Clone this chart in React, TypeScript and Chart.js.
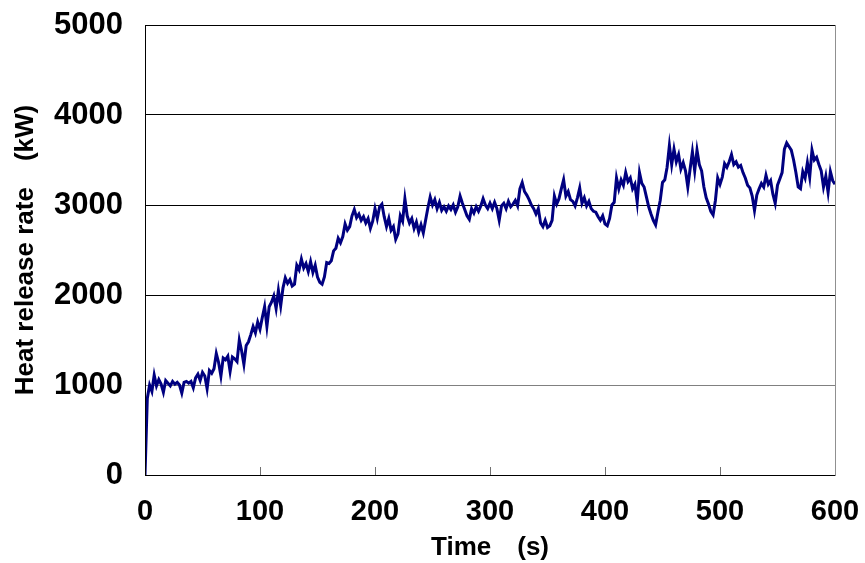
import React, { useEffect, useRef } from "react";
import { Chart, registerables } from "chart.js";

Chart.register(...registerables);

// Sampling interval of the recorded heat release rate (s)
const sampleStepSeconds = 2;

// Heat release rate (kW), one value every 2 s from t = 0 to t = 600 s
const heatReleaseRate: number[] = [
  // 0-18
  0, 850, 1000, 930, 1110, 990, 1060, 1010, 920, 1050,
  // 20-38
  1020, 990, 1040, 1010, 1030, 1000, 910, 1030, 1040, 1020,
  // 40-58
  1040, 970, 1080, 1120, 1050, 1140, 1100, 960, 1160, 1130,
  // 60-78
  1180, 1350, 1250, 1100, 1300, 1280, 1320, 1150, 1310, 1290,
  // 80-98
  1260, 1500, 1380, 1230, 1440, 1480, 1560, 1650, 1580, 1700,
  // 100-118
  1620, 1750, 1870, 1650, 1870, 1920, 1990, 1850, 2050, 1880,
  // 120-138
  2080, 2190, 2130, 2170, 2100, 2120, 2330, 2280, 2400, 2300,
  // 140-158
  2350, 2260, 2370, 2250, 2330, 2200, 2140, 2120, 2200, 2360,
  // 160-178
  2350, 2380, 2490, 2520, 2630, 2580, 2650, 2790, 2720, 2760,
  // 180-198
  2880, 2950, 2860, 2900, 2830, 2870, 2800, 2850, 2740, 2820,
  // 200-218
  2960, 2850, 2980, 3010, 2870, 2760, 2850, 2720, 2760, 2620,
  // 220-238
  2680, 2880, 2820, 3070, 2880, 2800, 2850, 2740, 2810, 2700,
  // 240-258
  2780, 2690, 2830, 2970, 3090, 3000, 3060, 2960, 3030, 2940,
  // 260-278
  2980, 2930, 2990, 2950, 3000, 2920, 2980, 3100, 3020, 2950,
  // 280-298
  2880, 2840, 2960, 2910, 2980, 2930, 2990, 3070, 3000, 2960,
  // 300-318
  3020, 2960, 3030, 2960, 2830, 2990, 3020, 2960, 3040, 2980,
  // 320-338
  3010, 3050, 2990, 3180, 3250, 3150, 3110, 3060, 3000, 2960,
  // 340-358
  2900, 2960, 2800, 2760, 2830, 2750, 2770, 2830, 3100, 3010,
  // 360-378
  3070, 3180, 3280, 3100, 3150, 3060, 3040, 2990, 3080, 3190,
  // 380-398
  3020, 3080, 2990, 3040, 2960, 2930, 2920, 2870, 2830, 2880,
  // 400-418
  2790, 2770, 2850, 3000, 3030, 3300, 3180, 3280, 3220, 3360,
  // 420-438
  3260, 3300, 3180, 3230, 3030, 3360, 3240, 3200, 3090, 2980,
  // 440-458
  2900, 2830, 2780, 2920, 3050, 3250, 3280, 3420, 3660, 3450,
  // 460-478
  3620, 3480, 3560, 3400, 3470, 3380, 3200, 3400, 3590, 3380,
  // 480-498
  3610, 3450, 3380, 3200, 3080, 3010, 2930, 2890, 3050, 3300,
  // 500-518
  3230, 3310, 3460, 3420, 3480, 3560, 3450, 3480, 3420, 3440,
  // 520-538
  3360, 3300, 3220, 3190, 3100, 2940, 3110, 3180, 3240, 3200,
  // 540-558
  3330, 3230, 3270, 3120, 3020, 3220, 3290, 3360, 3620, 3690,
  // 560-578
  3650, 3610, 3500, 3360, 3200, 3180, 3370, 3300, 3470, 3310,
  // 580-600
  3610, 3500, 3530, 3450, 3380, 3200, 3320, 3140, 3370, 3270, 3230,
];

const xMin = 0;
const xMax = 600;
const xStep = 100;
const yMin = 0;
const yMax = 5000;
const yStep = 1000;

const xTitle = "Time　(s)";
const yTitle = "Heat release rate　(kW)";

const FONT = '"Liberation Sans", Arial, "Noto Sans CJK JP", sans-serif';

const framePlugin = {
  id: "frameAndInnerTicks",
  afterDraw(chart: any) {
    const { ctx, chartArea } = chart;
    const { left, right, top, bottom } = chartArea;
    ctx.save();
    ctx.lineWidth = 1;
    const xs = chart.scales.x;
    ctx.strokeStyle = "#707070";
    for (let v = xMin + xStep; v < xMax; v += xStep) {
      const px = Math.round(xs.getPixelForValue(v)) + 0.5;
      ctx.beginPath();
      ctx.moveTo(px, bottom);
      ctx.lineTo(px, bottom - 8);
      ctx.stroke();
    }
    ctx.strokeStyle = "#000000";
    ctx.beginPath();
    ctx.moveTo(Math.round(left) + 0.5, Math.round(top) + 0.5);
    ctx.lineTo(Math.round(right) + 0.5, Math.round(top) + 0.5);
    ctx.moveTo(Math.round(left) + 0.5, Math.round(top) + 0.5);
    ctx.lineTo(Math.round(left) + 0.5, Math.round(bottom) + 0.5);
    ctx.lineTo(Math.round(right) + 0.5, Math.round(bottom) + 0.5);
    ctx.stroke();
    ctx.strokeStyle = "#909090";
    ctx.beginPath();
    ctx.moveTo(Math.round(right) + 0.5, Math.round(top) + 0.5);
    ctx.lineTo(Math.round(right) + 0.5, Math.round(bottom) + 0.5);
    ctx.stroke();
    ctx.restore();
  },
};

export default function App() {
  const canvasRef = useRef<HTMLCanvasElement | null>(null);

  useEffect(() => {
    if (!canvasRef.current) return;
    const points = heatReleaseRate.map((v, i) => ({ x: i * sampleStepSeconds, y: v }));
    const chart = new Chart(canvasRef.current, {
      type: "line",
      data: {
        datasets: [
          {
            data: points,
            borderColor: "#000080",
            borderWidth: 3,
            pointRadius: 0,
            tension: 0,
            fill: false,
          },
        ],
      },
      options: {
        responsive: false,
        animation: false,
        parsing: false as any,
        layout: { padding: { left: 0, right: 30, top: 25, bottom: 0 } },
        plugins: {
          legend: { display: false },
          tooltip: { enabled: false },
        },
        scales: {
          x: {
            type: "linear",
            min: xMin,
            max: xMax,
            afterFit: (scale: any) => {
              scale.height = 88;
            },
            grid: {
              display: true,
              drawOnChartArea: false,
              drawTicks: true,
              tickLength: 20,
              tickColor: "rgba(0,0,0,0)",
            },
            border: { display: false },
            ticks: {
              stepSize: xStep,
              color: "#000",
              padding: 0,
              maxRotation: 0,
              font: { family: FONT, size: 29, weight: "bold" },
            },
            title: {
              display: true,
              text: xTitle,
              color: "#000",
              padding: { top: 0, bottom: 0 },
              font: { family: FONT, size: 26, weight: "bold" },
            },
          },
          y: {
            min: yMin,
            max: yMax,
            afterFit: (scale: any) => {
              scale.width = 145;
            },
            grid: {
              drawTicks: true,
              tickLength: 22,
              tickColor: "rgba(0,0,0,0)",
              color: (ctx: any) => (ctx.tick && ctx.tick.value === 1000 ? "#808080" : "#000000"),
              lineWidth: 1,
            },
            border: { display: false },
            ticks: {
              stepSize: yStep,
              color: "#000",
              padding: 0,
              callback: (v: any) => String(v),
              font: { family: FONT, size: 31, weight: "bold" },
            },
            title: {
              display: true,
              text: yTitle,
              color: "#000",
              padding: { top: 10, bottom: 0 },
              font: { family: FONT, size: 26, weight: "bold" },
            },
          },
        },
      },
      plugins: [framePlugin],
    });
    return () => chart.destroy();
  }, []);

  return (
    <div style={{ position: "fixed", left: 0, top: 0, width: 865, height: 563, background: "#fff" }}>
      <canvas ref={canvasRef} width={865} height={563} />
    </div>
  );
}
